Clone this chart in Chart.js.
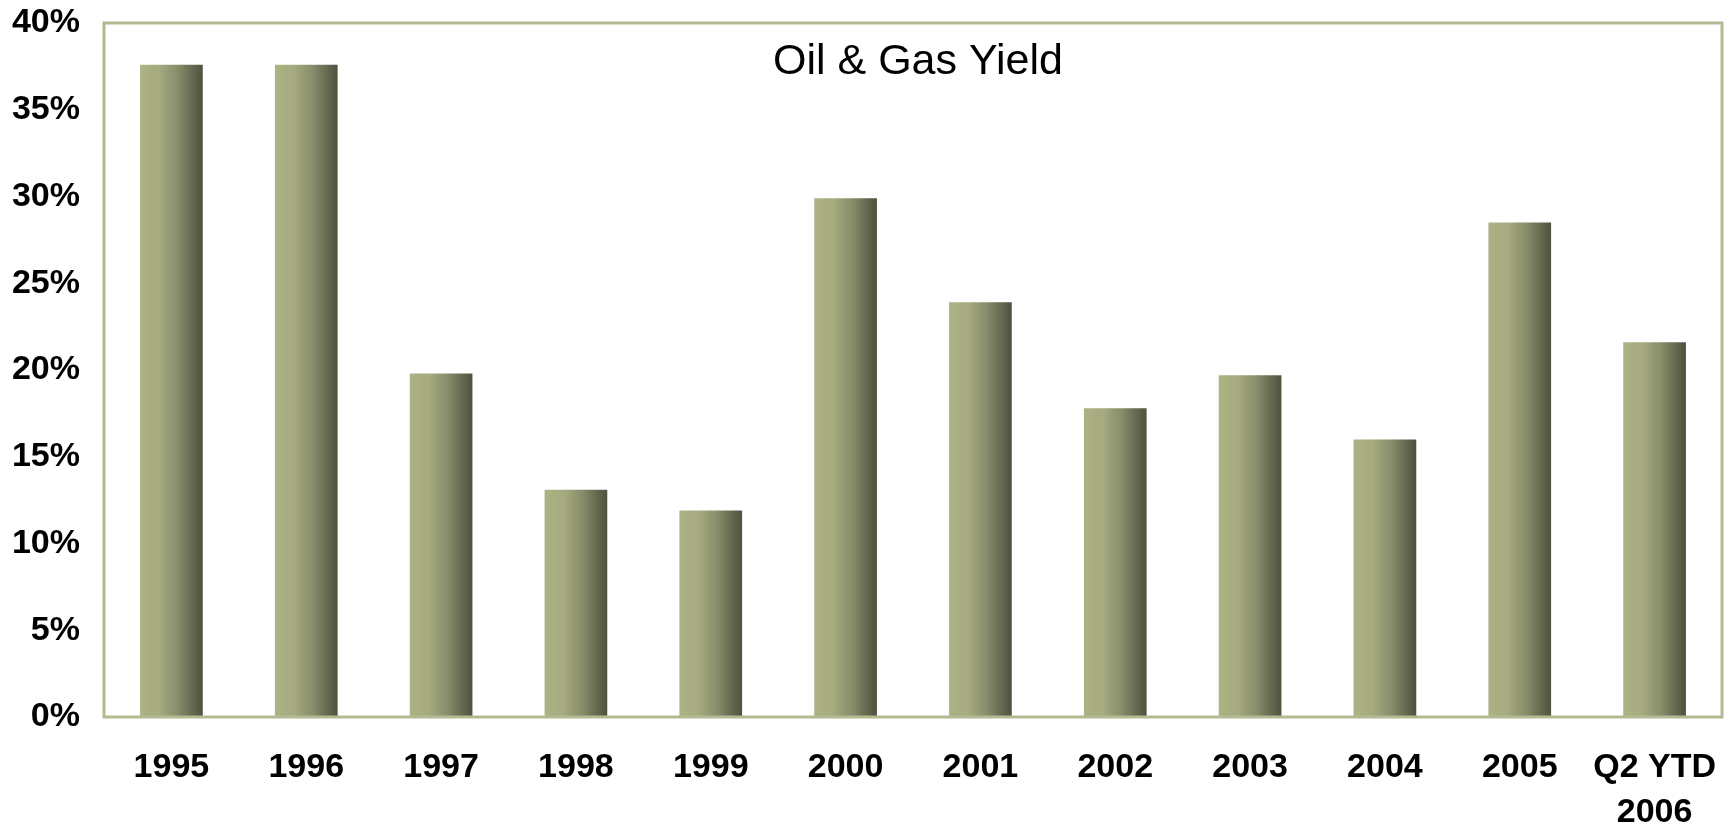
<!DOCTYPE html>
<html>
<head>
<meta charset="utf-8">
<title>Oil & Gas Yield</title>
<script src="https://cdn.jsdelivr.net/npm/chart.js@4.4.1/dist/chart.umd.min.js"></script>
<style>
    html, body { margin: 0; padding: 0; background: #ffffff; }
    #graphe { display: block; }
</style>
</head>
<body>
<canvas id="graphe" width="1728" height="829"></canvas>
<script>
// Valeurs du graphique
const annees = ['1995', '1996', '1997', '1998', '1999', '2000', '2001', '2002', '2003', '2004', '2005', ['Q2 YTD', '2006']];
const rendement = [37.6, 37.6, 19.8, 13.1, 11.9, 29.9, 23.9, 17.8, 19.7, 16.0, 28.5, 21.6];
const graduations = [0, 5, 10, 15, 20, 25, 30, 35, 40];
const titre = 'Oil & Gas Yield';

const police = '"Liberation Sans", Arial, sans-serif';
const couleurCadre = '#b3ba92';
const largeurBarre = 0.465;

// Dégradé horizontal de chaque barre (clair à gauche, foncé à droite)
function degradeBarre(context) {
    const chart = context.chart;
    const xs = chart.scales.x;
    if (!chart.chartArea || !xs) {
        return '#9aa077';
    }
    const largeurCat = (xs.right - xs.left) / annees.length;
    const demi = largeurCat * largeurBarre / 2;
    const centre = xs.getPixelForValue(context.dataIndex);
    const g = chart.ctx.createLinearGradient(centre - demi, 0, centre + demi, 0);
    g.addColorStop(0, '#adb284');
    g.addColorStop(0.3, '#a6ab80');
    g.addColorStop(0.6, '#888d6b');
    g.addColorStop(0.85, '#62674e');
    g.addColorStop(1, '#4d523f');
    return g;
}

// Cadre autour de la zone du graphique + titre à l'intérieur
const cadrePlugin = {
    id: 'cadre',
    afterDatasetsDraw(chart) {
        const a = chart.chartArea;
        const ctx = chart.ctx;
        ctx.save();
        ctx.strokeStyle = couleurCadre;
        ctx.lineWidth = 3;
        ctx.strokeRect(a.left, a.top, a.right - a.left, a.bottom - a.top);
        ctx.fillStyle = '#000000';
        ctx.font = '43px ' + police;
        ctx.textAlign = 'center';
        ctx.textBaseline = 'middle';
        ctx.fillText(titre, (a.left + a.right) / 2 + 5, a.top + 39);
        ctx.restore();
    }
};

const ctx = document.getElementById('graphe').getContext('2d');
const chartInstance = new Chart(ctx, {
    type: 'bar',
    data: {
        labels: annees,
        datasets: [{
            label: titre,
            data: rendement,
            backgroundColor: degradeBarre,
            borderWidth: 0,
            categoryPercentage: 1,
            barPercentage: largeurBarre
        }]
    },
    options: {
        responsive: false,
        animation: false,
        layout: {
            padding: { top: 23, right: 6, left: 0, bottom: 0 }
        },
        plugins: {
            legend: { display: false },
            title: { display: false },
            tooltip: { enabled: false }
        },
        scales: {
            x: {
                grid: { display: false, drawTicks: false },
                border: { display: false },
                ticks: {
                    color: '#000000',
                    font: { family: police, size: 34, weight: 'bold', lineHeight: 1.33 },
                    padding: 28,
                    maxRotation: 0,
                    autoSkip: false
                },
                afterFit(scale) {
                    // hauteur fixe, et pas de marge ajoutée pour les étiquettes qui débordent
                    scale.height = 112;
                    scale.paddingLeft = 0;
                    scale.paddingRight = 0;
                }
            },
            y: {
                min: 0,
                max: 40,
                afterBuildTicks(scale) {
                    scale.ticks = graduations.map(v => ({ value: v }));
                },
                grid: { display: false, drawTicks: false },
                border: { display: false },
                ticks: {
                    color: '#000000',
                    font: { family: police, size: 34, weight: 'bold' },
                    padding: 24,
                    callback: v => v + '%'
                },
                afterFit(scale) {
                    scale.width = 104;
                    scale.paddingTop = 0;
                    scale.paddingBottom = 0;
                }
            }
        }
    },
    plugins: [cadrePlugin]
});
</script>
</body>
</html>
